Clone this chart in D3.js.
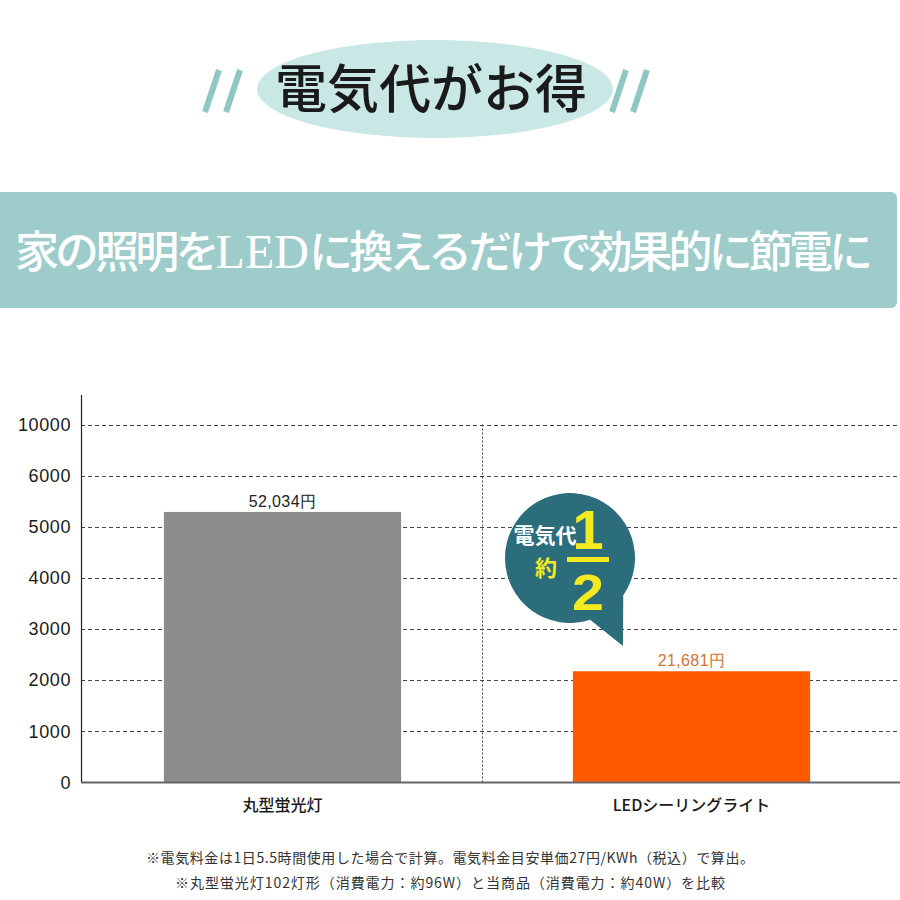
<!DOCTYPE html>
<html><head><meta charset="utf-8">
<script src="https://cdn.jsdelivr.net/npm/d3@7"></script>
<style>body{margin:0;background:#fff}svg{display:block}</style>
</head><body>
<svg id="c" width="900" height="900"></svg>
<script>
const categories = ["丸型蛍光灯", "LEDシーリングライト"];
const values = [5290, 2175];
const valueLabels = ["52,034円", "21,681円"];
const tickLabels = [0, 1000, 2000, 3000, 4000, 5000, 6000, 10000];
const barColors = ["#8c8c8c", "#ff5a00"];
const labelColors = ["#222222", "#cf7433"];
const titleText = "電気代がお得";
const bannerParts = ["家の照明を", "LED", "に換えるだけで効果的に節電に"];
const bubbleLines = ["電気代", "約"];
const fractionParts = ["1", "2"];
const notes = ["※電気料金は1日5.5時間使用した場合で計算。電気料金目安単価27円/KWh（税込）で算出。",
               "※丸型蛍光灯102灯形（消費電力：約96W）と当商品（消費電力：約40W）を比較"];

const svg = d3.select("#c");
const JP = "'Noto Sans CJK JP', 'Noto Sans', sans-serif";

// ---- Title
const tg = svg.append("g");
tg.append("ellipse").attr("cx", 435).attr("cy", 89).attr("rx", 178).attr("ry", 49).attr("fill", "#c9e7e5");
const slash = (x) => tg.append("line").attr("x1", x).attr("y1", 112).attr("x2", x + 14).attr("y2", 70)
  .attr("stroke", "#8fc7c5").attr("stroke-width", 6);
[205, 226, 612, 633].forEach(slash);
tg.append("text").attr("x", 431).attr("y", 108).attr("text-anchor", "middle")
  .attr("font-family", JP).attr("font-size", 52).attr("font-weight", 500).attr("fill", "#1a1a1a")
  .text(titleText);

// ---- Banner
svg.append("rect").attr("x", -8).attr("y", 192).attr("width", 905).attr("height", 116).attr("rx", 6)
  .attr("fill", "#9dcccb");
const bt = svg.append("text").attr("x", 15).attr("y", 268)
  .attr("font-family", JP).attr("font-size", 44).attr("font-weight", 500).attr("fill", "#ffffff")
  .attr("textLength", 858).attr("lengthAdjust", "spacing");
bt.selectAll("tspan").data(bannerParts).join("tspan")
  .attr("font-family", (d, i) => i === 1 ? "'Liberation Serif', 'DejaVu Serif', serif" : JP)
  .attr("font-size", (d, i) => i === 1 ? 48 : 44)
  .attr("letter-spacing", (d, i) => i === 1 ? "4px" : null)
  .text(d => d);

// ---- Chart
const left = 81, right = 900, top0 = 424.5, bottom = 782.5;
const step = (bottom - top0) / (tickLabels.length - 1);
const y = d3.scaleLinear().domain(tickLabels).range(tickLabels.map((d, i) => bottom - i * step));
const x = d3.scaleBand().domain(categories).range([78, 896]).paddingInner(0.42).paddingOuter(0.21);

const ch = svg.append("g");
ch.append("g").selectAll("line").data(tickLabels.filter(d => d > 0)).join("line")
  .attr("x1", left).attr("x2", right).attr("y1", d => Math.round(y(d)) + 0.5).attr("y2", d => Math.round(y(d)) + 0.5)
  .attr("stroke", "#444").attr("stroke-width", 1).attr("stroke-dasharray", "4,3");
const divX = (x(categories[0]) + x.bandwidth() + x(categories[1])) / 2 - 4.5;
ch.append("line").attr("x1", divX).attr("x2", divX).attr("y1", top0).attr("y2", bottom)
  .attr("stroke", "#444").attr("stroke-width", 1).attr("stroke-dasharray", "2,2");

const yAxis = d3.axisLeft(y).tickValues(tickLabels).tickSize(0).tickPadding(10).tickFormat(d => String(d));
const ya = ch.append("g").attr("transform", `translate(${left},0)`).call(yAxis);
ya.select(".domain").remove();
ya.selectAll("text").attr("font-family", "'Liberation Sans', Arial, sans-serif").attr("font-size", 18)
  .attr("letter-spacing", "0.6px").attr("fill", "#1a1a1a");
ch.append("line").attr("x1", left + 0.5).attr("x2", left + 0.5).attr("y1", 395).attr("y2", bottom)
  .attr("stroke", "#222").attr("stroke-width", 1.2);

ch.append("g").selectAll("rect").data(values).join("rect")
  .attr("x", (d, i) => x(categories[i])).attr("width", x.bandwidth())
  .attr("y", d => y(d)).attr("height", d => y(0) - y(d))
  .attr("fill", (d, i) => barColors[i]);
ch.append("g").selectAll("text").data(values).join("text")
  .attr("x", (d, i) => x(categories[i]) + x.bandwidth() / 2).attr("y", d => y(d) - 5)
  .attr("text-anchor", "middle").attr("font-family", "'Liberation Sans', Arial, sans-serif").attr("font-size", 16)
  .attr("letter-spacing", "0.4px")
  .attr("fill", (d, i) => labelColors[i]).text((d, i) => valueLabels[i]);

ch.append("line").attr("x1", left).attr("x2", right).attr("y1", bottom).attr("y2", bottom)
  .attr("stroke", "#666").attr("stroke-width", 2);

const xAxis = d3.axisBottom(x).tickSize(0).tickPadding(17);
const xa = ch.append("g").attr("transform", `translate(0,${bottom})`).call(xAxis);
xa.select(".domain").remove();
xa.selectAll("text").attr("font-family", JP).attr("font-size", 16).attr("font-weight", 500).attr("fill", "#1a1a1a");

// ---- Speech bubble
const bx = 570, by = 558, r = 65;
const a1 = 35 * Math.PI / 180, a2 = 72 * Math.PI / 180;
const p1 = [bx + r * Math.cos(a1), by + r * Math.sin(a1)];
const p2 = [bx + r * Math.cos(a2), by + r * Math.sin(a2)];
const bubblePath = `M${p1[0]},${p1[1]} A${r},${r} 0 1,0 ${p2[0]},${p2[1]} L623,646 Z`;
const bg = svg.append("g");
bg.append("path").attr("d", bubblePath).attr("fill", "#2b6d7b");
bg.append("text").attr("x", 545).attr("y", 543).attr("text-anchor", "middle")
  .attr("font-family", JP).attr("font-size", 21).attr("font-weight", 700).attr("fill", "#ffffff")
  .text(bubbleLines[0]);
bg.append("text").attr("x", 546).attr("y", 576).attr("text-anchor", "middle")
  .attr("font-family", JP).attr("font-size", 22).attr("font-weight", 700).attr("fill", "#f3ea1f")
  .text(bubbleLines[1]);
bg.append("text").attr("x", 588).attr("y", 549).attr("text-anchor", "middle")
  .attr("font-family", "'Liberation Sans', Arial, sans-serif").attr("font-size", 56).attr("font-weight", 700).attr("fill", "#f3ea1f")
  .text(fractionParts[0]);
bg.append("rect").attr("x", 567).attr("y", 557).attr("width", 42).attr("height", 5).attr("fill", "#f3ea1f");
bg.append("text").attr("x", 588).attr("y", 610).attr("text-anchor", "middle")
  .attr("font-family", "'Liberation Sans', Arial, sans-serif").attr("font-size", 50).attr("font-weight", 700).attr("fill", "#f3ea1f")
  .attr("transform", "translate(588,0) scale(1.15,1) translate(-588,0)")
  .text(fractionParts[1]);

// ---- Notes
const noteWidths = [608, 550];
svg.append("g").selectAll("text").data(notes).join("text")
  .attr("x", 450).attr("y", (d, i) => 863 + i * 25).attr("text-anchor", "middle")
  .attr("font-family", JP).attr("font-size", 14).attr("fill", "#333")
  .attr("textLength", (d, i) => noteWidths[i]).attr("lengthAdjust", "spacing")
  .text(d => d);
</script>
</body></html>
